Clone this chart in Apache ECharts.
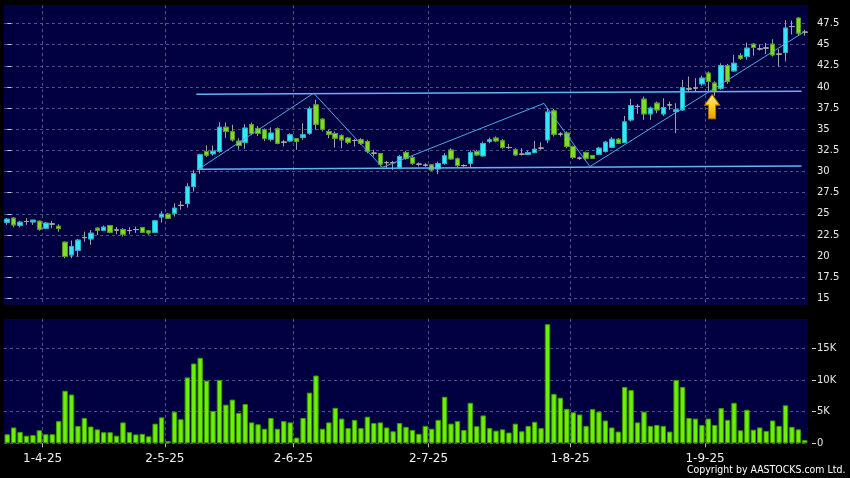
<!DOCTYPE html>
<html>
<head>
<meta charset="utf-8">
<script src="https://cdn.jsdelivr.net/npm/echarts@6/dist/echarts.min.js"></script>
<style>html,body{margin:0;padding:0;background:#000;}#c{width:850px;height:478px;}</style>
</head>
<body>
<div id="c"></div>
<script>
const dates = ['24-3-25','25-3-25','26-3-25','27-3-25','28-3-25','31-3-25',
'1-4-25','2-4-25','3-4-25','7-4-25','8-4-25','9-4-25','10-4-25','11-4-25','14-4-25','15-4-25','16-4-25','17-4-25','22-4-25','23-4-25','24-4-25','25-4-25','28-4-25','29-4-25','30-4-25',
'2-5-25','6-5-25','7-5-25','8-5-25','9-5-25','12-5-25','13-5-25','14-5-25','15-5-25','16-5-25','19-5-25','20-5-25','21-5-25','22-5-25','23-5-25','26-5-25','27-5-25','28-5-25','29-5-25','30-5-25',
'2-6-25','3-6-25','4-6-25','5-6-25','6-6-25','9-6-25','10-6-25','11-6-25','12-6-25','13-6-25','16-6-25','17-6-25','18-6-25','19-6-25','20-6-25','23-6-25','24-6-25','25-6-25','26-6-25','27-6-25','30-6-25',
'2-7-25','3-7-25','4-7-25','7-7-25','8-7-25','9-7-25','10-7-25','11-7-25','14-7-25','15-7-25','16-7-25','17-7-25','18-7-25','21-7-25','22-7-25','23-7-25','24-7-25','25-7-25','28-7-25','29-7-25','30-7-25','31-7-25',
'1-8-25','4-8-25','5-8-25','6-8-25','7-8-25','8-8-25','11-8-25','12-8-25','13-8-25','14-8-25','15-8-25','18-8-25','19-8-25','20-8-25','21-8-25','22-8-25','25-8-25','26-8-25','27-8-25','28-8-25','29-8-25',
'1-9-25','2-9-25','3-9-25','4-9-25','5-9-25','8-9-25','9-9-25','10-9-25','11-9-25','12-9-25','15-9-25','16-9-25','17-9-25','18-9-25','19-9-25','22-9-25'];

const tickLabels = ['1-4-25','2-5-25','2-6-25','2-7-25','1-8-25','1-9-25'];

const openP = [24.01,24.49,23.66,24.10,24.05,24.13,23.31,23.80,23.54,21.65,
20.15,20.70,22.20,22.04,23.31,23.07,23.62,23.10,23.15,23.03,
23.15,23.39,22.99,22.83,24.64,24.96,25.08,26.00,26.22,28.23,
30.32,32.37,32.10,32.37,35.24,34.73,33.59,33.47,35.55,35.10,
34.95,33.83,35.05,33.47,33.63,33.87,34.06,34.54,37.88,36.19,
34.73,34.50,34.22,33.95,33.67,33.75,33.55,32.17,32.13,31.06,
31.06,30.48,32.25,31.66,30.87,30.75,30.79,30.32,30.95,32.53,
31.50,30.71,30.99,32.37,31.86,33.55,33.95,33.63,32.84,32.57,
32.05,32.05,32.25,32.76,33.75,37.17,34.42,34.54,32.96,31.58,
32.25,31.89,32.05,32.37,32.88,33.82,33.43,36.11,37.70,38.55,
36.82,38.08,36.82,37.88,37.09,37.29,39.77,39.89,40.37,41.63,
40.45,39.85,42.53,41.90,43.71,43.60,45.05,44.50,44.60,45.05,
43.87,44.07,47.14,48.13,46.47];
const closeP = [24.37,23.70,24.01,24.10,24.25,23.19,23.90,23.80,23.27,19.96,
21.14,21.89,22.20,22.71,23.07,23.42,22.83,23.10,22.60,23.03,
23.15,22.83,22.75,24.17,24.96,24.49,25.67,26.00,28.19,29.77,
31.98,31.94,32.40,35.24,34.73,33.75,33.08,35.13,34.50,34.50,
33.90,34.54,33.35,33.47,34.34,33.55,34.34,37.41,35.60,35.00,
34.42,33.95,33.75,33.47,33.67,33.35,32.37,32.17,30.87,31.06,
31.06,31.78,31.58,30.99,30.87,30.75,30.20,30.95,31.86,31.50,
30.71,30.71,32.25,31.97,33.32,33.75,33.63,32.84,32.84,31.97,
32.05,32.25,32.64,32.76,37.02,34.42,34.42,32.96,31.66,31.58,
31.58,31.58,32.76,33.47,33.82,33.35,35.87,37.80,37.70,36.82,
37.49,37.29,37.57,37.88,37.29,39.93,39.77,39.89,41.04,40.65,
39.53,42.53,40.65,42.80,43.40,44.58,44.66,44.50,44.60,43.79,
43.87,46.95,47.14,46.36,46.47];
const lowP = [23.70,23.42,23.40,23.70,23.70,23.00,23.20,23.30,22.90,19.76,
19.76,19.96,21.70,21.34,22.50,22.99,22.71,22.60,22.32,22.60,
22.75,22.75,22.52,22.75,23.96,24.41,24.68,25.48,25.75,27.64,
29.73,31.75,31.90,32.20,34.00,33.55,32.60,32.70,34.30,34.20,
33.60,33.55,33.23,32.96,33.47,32.57,33.75,34.34,34.93,34.73,
33.95,32.84,32.76,33.24,32.96,33.16,32.17,31.78,30.60,30.32,
30.20,30.40,31.40,30.79,30.60,30.56,30.08,29.69,30.79,31.38,
30.48,30.56,30.48,31.82,31.74,33.35,33.47,32.68,32.68,31.89,
31.89,31.97,32.17,32.57,33.35,34.14,34.14,32.76,31.50,31.38,
31.38,31.50,31.97,32.25,32.76,33.24,33.35,35.91,36.82,36.11,
36.11,36.90,36.58,37.29,34.54,37.21,39.45,39.45,40.13,39.45,
38.95,39.65,40.37,41.82,43.20,43.20,43.71,44.30,43.90,43.60,
42.40,43.00,46.20,46.05,46.05];
const highP = [24.49,24.60,24.17,24.50,24.30,24.20,24.05,24.17,23.78,21.73,
21.85,22.04,22.90,23.10,23.40,23.62,23.70,23.45,23.31,23.42,
23.50,23.46,23.10,24.29,25.30,25.08,26.26,26.53,28.63,30.20,
32.10,33.10,33.07,35.84,35.80,35.52,33.95,35.60,35.80,35.40,
35.10,35.21,35.21,33.75,34.54,33.95,35.72,37.69,38.50,36.31,
34.93,34.73,34.42,34.06,33.87,33.95,33.75,32.57,32.17,31.26,
31.26,31.97,32.45,31.89,31.06,31.00,30.87,31.18,32.17,32.76,
31.66,30.87,32.53,32.57,33.55,34.02,34.14,33.83,33.24,32.76,
32.76,32.49,33.63,33.47,37.49,37.41,34.66,34.73,33.08,31.78,
32.37,31.97,32.92,33.63,34.06,33.94,36.58,38.59,37.98,38.87,
37.69,38.28,38.67,38.28,38.08,40.84,41.24,41.04,41.32,41.83,
40.65,42.80,42.72,43.79,43.99,45.25,45.17,45.05,45.20,45.64,
44.46,47.90,47.85,48.25,46.75];
// volume in thousands
const volumeK = [1.43,2.5,1.8,1.2,1.3,2.06,1.43,1.43,3.5,8.3,
7.7,2.75,4.0,2.65,2.2,1.75,1.75,1.2,3.3,1.75,
1.4,1.5,1.1,3.1,4.1,0.35,5.0,3.8,10.4,12.6,
13.5,9.9,5.1,10.0,6.1,6.9,4.8,6.2,3.3,3.0,
2.3,4.0,2.3,3.5,3.3,0.9,4.0,8.0,10.7,2.3,
3.3,5.6,3.9,2.4,3.7,2.4,4.2,3.2,3.3,2.5,
1.9,3.2,2.6,2.1,1.5,2.75,2.3,3.7,7.35,3.1,
3.5,2.1,6.4,2.7,4.4,2.4,2.0,2.2,1.7,3.1,
1.9,2.75,3.4,2.4,18.8,7.8,7.2,5.45,4.9,4.55,
2.75,5.4,5.0,3.6,2.5,1.85,8.9,8.4,3.3,5.0,
2.75,2.9,2.75,1.85,10.0,8.9,4.0,3.9,2.9,3.9,
2.9,5.55,3.7,6.4,2.05,5.3,2.15,2.5,1.95,3.6,
2.75,6.0,2.6,2.2,0.5];

// trend lines (x in bar-index units, y in price)
const zigzagX = [30.0, 47.65, 58.34, 83.45, 90.6, 123.9];
const zigzagY = [30.4, 39.27, 30.5, 38.06, 30.59, 46.5];
const upperX = [29.4, 123.5], upperY = [39.15, 39.5];
const lowerX = [29.5, 123.5], lowerY = [30.28, 30.67];
const arrowPos = [109.6, 37.68];

const N = dates.length;
const bounds = dates.concat(['']);
const isTick = (i) => tickLabels.indexOf(bounds[i]) >= 0;

const wickData = dates.map((d, i) => [openP[i], closeP[i], lowP[i], highP[i]]);
const bodyData = dates.map((d, i) => [openP[i], closeP[i], Math.min(openP[i], closeP[i]), Math.max(openP[i], closeP[i])]);
const pair = (xs, ys) => xs.map((x, i) => [x, ys[i]]);

const NAVY = '#000040';
const GRIDC = '#50508a';
const LEFT = 4, RIGHT = 42;
const dash = { color: GRIDC, type: [3, 3], width: 1 };

const chart = echarts.init(document.getElementById('c'), null, { renderer: 'canvas' });
chart.setOption({
  backgroundColor: '#000',
  animation: false,
  grid: [
    { left: LEFT, right: RIGHT, top: 5, height: 300, show: true, backgroundColor: NAVY, borderWidth: 0 },
    { left: LEFT, right: RIGHT, top: 23.5, height: 275, show: false },
    { left: LEFT, right: RIGHT, top: 319, height: 124.3, show: true, backgroundColor: NAVY, borderWidth: 0 },
    { left: LEFT, right: RIGHT, top: 348.3, height: 95, show: false }
  ],
  xAxis: [
    { gridIndex: 0, type: 'category', data: bounds, boundaryGap: false,
      axisLine: { show: false }, axisTick: { show: false }, axisLabel: { show: false },
      splitLine: { show: true, interval: (i) => isTick(i), lineStyle: dash } },
    { gridIndex: 1, type: 'category', data: dates, boundaryGap: true, show: false },
    { gridIndex: 1, type: 'value', min: -0.5, max: N - 0.5, show: false },
    { gridIndex: 2, type: 'category', data: bounds, boundaryGap: false, position: 'bottom',
      axisLine: { show: false },
      axisTick: { show: true, length: 4, interval: (i) => isTick(i), lineStyle: { color: '#bbbbbb' } },
      axisLabel: { show: true, interval: (i) => isTick(i), color: '#f0f0f0', fontFamily: 'DejaVu Sans', fontSize: 12, margin: 10 },
      splitLine: { show: true, interval: (i) => isTick(i), lineStyle: dash } },
    { gridIndex: 3, type: 'category', data: dates, boundaryGap: true, show: false }
  ],
  yAxis: [
    { gridIndex: 0, type: 'value', min: 0, max: 1, show: false },
    { gridIndex: 1, type: 'value', position: 'right', min: 15, max: 47.5, interval: 2.5, offset: 4,
      axisLine: { show: false },
      axisTick: { show: true, length: 4, lineStyle: { color: '#cccccc' } },
      axisLabel: { color: '#e8e8e8', fontFamily: 'DejaVu Sans', fontSize: 10, margin: 5 },
      splitLine: { show: true, lineStyle: dash } },
    { gridIndex: 2, type: 'value', min: 0, max: 1, show: false },
    { gridIndex: 3, type: 'value', position: 'right', min: 0, max: 15, interval: 5, offset: 4,
      axisLine: { show: false },
      axisTick: { show: true, length: 4, lineStyle: { color: '#cccccc' } },
      axisLabel: { color: '#e8e8e8', fontFamily: 'DejaVu Sans', fontSize: 10, margin: 5,
        formatter: (v) => v === 0 ? '0' : v + 'K' },
      splitLine: { show: true, lineStyle: dash } }
  ],
  series: [
    { type: 'candlestick', xAxisIndex: 1, yAxisIndex: 1, data: wickData, barWidth: 5, clip: false, z: 3,
      itemStyle: { color: '#a0a0a0', color0: '#a0a0a0', borderColor: '#a0a0a0', borderColor0: '#a0a0a0', borderColorDoji: '#a0a0a0', borderWidth: 1 } },
    { type: 'candlestick', xAxisIndex: 1, yAxisIndex: 1, data: bodyData, barWidth: 5, clip: false, z: 4,
      itemStyle: { color: '#30e8f8', color0: '#80dc28', borderColor: '#20b4c8', borderColor0: '#509e18', borderColorDoji: '#a8a8a8', borderWidth: 1 } },
    { type: 'line', xAxisIndex: 2, yAxisIndex: 1, data: pair(upperX, upperY), symbol: 'none', z: 6,
      lineStyle: { color: '#64b4f4', width: 1.5 } },
    { type: 'line', xAxisIndex: 2, yAxisIndex: 1, data: pair(lowerX, lowerY), symbol: 'none', z: 6,
      lineStyle: { color: '#64b4f4', width: 1.5 } },
    { type: 'line', xAxisIndex: 2, yAxisIndex: 1, data: pair(zigzagX, zigzagY), symbol: 'none', z: 6,
      lineStyle: { color: '#52a8ea', width: 1 },
      markPoint: {
        symbol: 'path://M7,0 L14,10 L10.3,10 L10.3,23 L3.7,23 L3.7,10 L0,10 Z',
        symbolSize: [15, 24],
        label: { show: false },
        itemStyle: {
          color: new echarts.graphic.LinearGradient(0, 0, 0, 1, [
            { offset: 0, color: '#fff27a' }, { offset: 0.5, color: '#ffcc22' }, { offset: 1, color: '#e89a00' }]),
          borderColor: '#b07800', borderWidth: 1 },
        data: [{ coord: arrowPos }]
      } },
    { type: 'bar', xAxisIndex: 4, yAxisIndex: 3, data: volumeK, barWidth: 5.4, clip: false, z: 3,
      itemStyle: { color: '#6cf000', borderColor: '#3f9a00', borderWidth: 1 } }
  ],
  graphic: [
    { type: 'text', x: 687, y: 464.5, scaleX: 0.855, scaleY: 1,
      style: { text: 'Copyright by AASTOCKS.com Ltd.', fill: '#ffffff', font: '11px "DejaVu Sans"', textVerticalAlign: 'top' } }
  ]
});
</script>
</body>
</html>
